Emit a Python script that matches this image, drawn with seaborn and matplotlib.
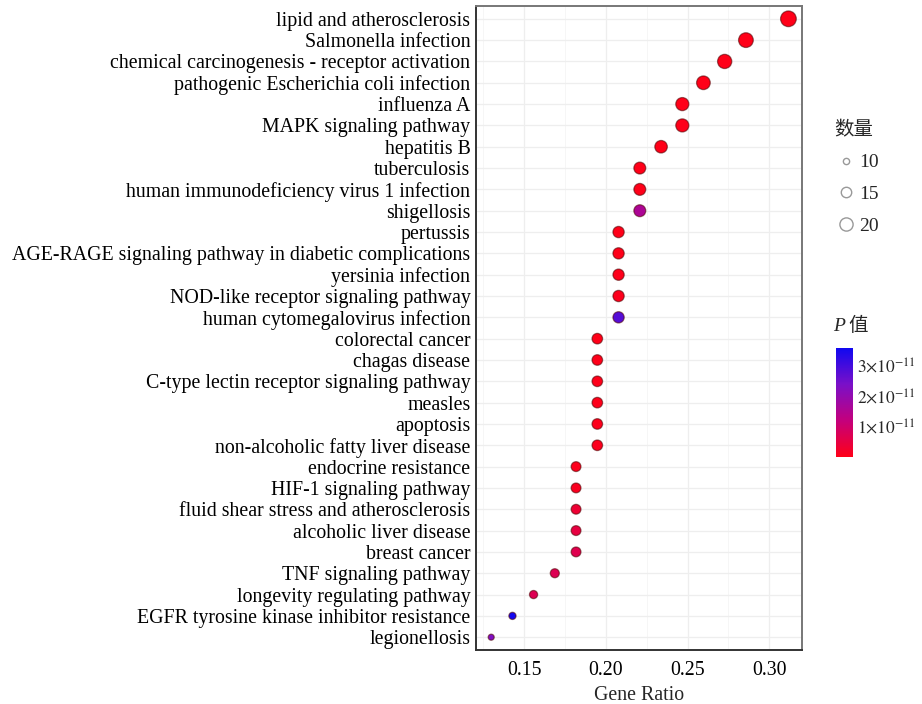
import numpy as np
import pandas as pd
import seaborn as sns
import matplotlib.pyplot as plt
from matplotlib.colors import LinearSegmentedColormap, Normalize
from matplotlib.cm import ScalarMappable
from matplotlib.lines import Line2D

sns.set_theme(style="white")
plt.rcParams['font.family'] = ['Liberation Serif', 'Noto Sans CJK SC']
plt.rcParams['mathtext.fontset'] = 'stix'

pathways = [
    "lipid and atherosclerosis",
    "Salmonella infection",
    "chemical carcinogenesis - receptor activation",
    "pathogenic Escherichia coli infection",
    "influenza A",
    "MAPK signaling pathway",
    "hepatitis B",
    "tuberculosis",
    "human immunodeficiency virus 1 infection",
    "shigellosis",
    "pertussis",
    "AGE-RAGE signaling pathway in diabetic complications",
    "yersinia infection",
    "NOD-like receptor signaling pathway",
    "human cytomegalovirus infection",
    "colorectal cancer",
    "chagas disease",
    "C-type lectin receptor signaling pathway",
    "measles",
    "apoptosis",
    "non-alcoholic fatty liver disease",
    "endocrine resistance",
    "HIF-1 signaling pathway",
    "fluid shear stress and atherosclerosis",
    "alcoholic liver disease",
    "breast cancer",
    "TNF signaling pathway",
    "longevity regulating pathway",
    "EGFR tyrosine kinase inhibitor resistance",
    "legionellosis",
]
counts = [24, 22, 21, 20, 19, 19, 18, 17, 17, 17, 16, 16, 16, 16, 16,
          15, 15, 15, 15, 15, 15, 14, 14, 14, 14, 14, 13, 12, 11, 10]
gene_ratio = [0.3117, 0.2857, 0.2727, 0.2597, 0.2468, 0.2468, 0.2338,
              0.2208, 0.2208, 0.2208, 0.2078, 0.2078, 0.2078, 0.2078, 0.2078,
              0.1948, 0.1948, 0.1948, 0.1948, 0.1948, 0.1948,
              0.1818, 0.1818, 0.1818, 0.1818, 0.1818, 0.1688, 0.1558, 0.1429, 0.1299]
pvalue = [1e-16, 1e-15, 1e-15, 2e-15, 1e-14, 2e-13, 1e-14, 1e-14, 2e-13, 1.6e-11,
          1e-13, 2e-13, 3e-13, 5e-13, 2.8e-11, 1e-13, 2e-13, 3e-13, 4e-13, 5e-13,
          6e-13, 5e-13, 1e-12, 3.5e-12, 5e-12, 6.5e-12, 7e-12, 7e-12, 3.55e-11, 2.3e-11]

df = pd.DataFrame({"pathway": pathways, "count": counts,
                   "ratio": gene_ratio, "p": pvalue})

cmap = LinearSegmentedColormap.from_list("pv", ["#ff0018", "#c4007c", "#7a10c8", "#1008f0"])
norm = Normalize(vmin=0, vmax=3.6e-11)

fig = plt.figure(figsize=(9.22, 7.04), dpi=100)
ax = fig.add_axes([476 / 922, 54 / 704, 326 / 922, 644 / 704])

sns.scatterplot(data=df, x="ratio", y="pathway", hue="p", palette=cmap,
                hue_norm=norm, size="count", sizes=(19, 128), size_norm=(10, 24),
                edgecolor=(0.3, 0, 0, 0.55), linewidth=0.9, legend=False,
                ax=ax, zorder=3)

ax.set_xlim(0.1206, 0.320)
ax.set_ylim(len(pathways) - 0.4, -0.6)
ax.set_xticks([0.15, 0.20, 0.25, 0.30])
ax.set_xticks([0.125, 0.175, 0.225, 0.275], minor=True)
ax.set_xticklabels(["0.15", "0.20", "0.25", "0.30"])
ax.grid(True, which="major", color="#eeeeee", linewidth=0.9, zorder=0)
ax.grid(True, which="minor", axis="x", color="#f5f5f5", linewidth=0.6, zorder=0)
ax.set_axisbelow(True)
ax.tick_params(axis="both", which="major", labelsize=14.3, colors="#bbbbbb",
               labelcolor="black", length=3, width=0.8, pad=1)
ax.tick_params(axis="x", which="major", pad=5)
ax.tick_params(axis="x", which="minor", length=0)
ax.set_xlabel("Gene Ratio", fontsize=14.3, labelpad=4)
ax.set_ylabel("")
for side in ["top", "right"]:
    ax.spines[side].set_color("#777777")
    ax.spines[side].set_linewidth(1.4)
for side in ["left", "bottom"]:
    ax.spines[side].set_color("#333333")
    ax.spines[side].set_linewidth(1.4)

# size legend
handles = [Line2D([], [], marker="o", linestyle="", markerfacecolor="white",
                  markeredgecolor="#999999", markeredgewidth=1.0, markersize=ms)
           for ms in [4.5, 7.5, 9.5]]
leg = fig.legend(handles, ["10", "15", "20"], title="数量", loc="upper left",
                 bbox_to_anchor=(826 / 922, 1 - 114 / 704), frameon=False,
                 fontsize=14, title_fontsize=14, handletextpad=0.0,
                 labelspacing=0.72, handlelength=1.3, borderaxespad=0)
leg._legend_box.align = "left"

# colour bar
cax = fig.add_axes([836 / 922, 247 / 704, 17 / 922, 109 / 704])
sm = ScalarMappable(norm=norm, cmap=cmap)
cb = fig.colorbar(sm, cax=cax, ticks=[1e-11, 2e-11, 3e-11])
cb.outline.set_visible(False)
cb.ax.set_yticklabels([r"$1{\times}10^{-11}$", r"$2{\times}10^{-11}$", r"$3{\times}10^{-11}$"],
                      fontsize=12.5)
cb.ax.tick_params(color="white", direction="in", length=4, pad=3)
fig.text(833 / 922, 1 - 326 / 704, "P", fontsize=14, style="italic",
         va="center", ha="left")
fig.text(848 / 922, 1 - 326 / 704, "值", fontsize=14, va="center", ha="left")

plt.savefig("out.png", dpi=100)
